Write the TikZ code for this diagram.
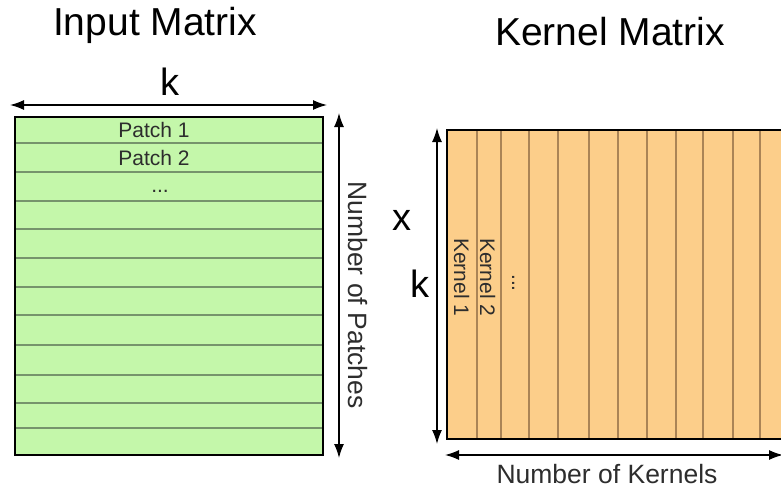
\documentclass[tikz,border=0pt]{standalone}
\usepackage{fontspec}
\setmainfont{Liberation Sans}
\usetikzlibrary{arrows.meta}

\definecolor{patchgreen}{RGB}{196,247,170}
\definecolor{patchline}{RGB}{118,148,108}
\definecolor{kernelorange}{RGB}{252,206,138}
\definecolor{kernelline}{RGB}{170,132,86}
\definecolor{labelgray}{RGB}{45,45,45}

\begin{document}
\begin{tikzpicture}[x=1pt,y=-1pt,
  dimarrow/.style={line width=1.4pt,
    {Latex[length=14pt,width=10pt]}-{Latex[length=14pt,width=10pt]}},
  titletext/.style={font=\fontsize{39}{41}\selectfont, anchor=base, inner sep=0pt},
  bigletter/.style={font=\fontsize{38}{40}\selectfont, anchor=base, inner sep=0pt},
  axislabel/.style={font=\fontsize{26.5}{28}\selectfont, text=labelgray, anchor=base, inner sep=0pt},
  celllabel/.style={font=\fontsize{21}{23}\selectfont, text=labelgray, anchor=base, inner sep=0pt},
  rowline/.style={patchline, line width=1.3pt},
  colline/.style={kernelline, line width=1.3pt},
  frame/.style={line width=1.6pt}
]
\useasboundingbox (0,0) rectangle (781,490);
\clip (0,0) rectangle (781,490);

% ---------- input matrix ----------
\node[titletext] (inTitle) at (155,35) {Input Matrix};

\coordinate (inNW) at (15,117);
\coordinate (inSE) at (323,455);
\fill[patchgreen] (inNW) rectangle (inSE);
\foreach \yy in {143,172,201,229,258,287,315,345,375,403,428}
  \draw[rowline] (15,\yy) -- (323,\yy);
\draw[frame] (inNW) rectangle (inSE);

\node[celllabel] (patchA) at (154,137) {Patch 1};
\node[celllabel] (patchB) at (154,165) {Patch 2};
\node[celllabel] (patchDots) at (160,192) {...};

% width of the input matrix
\coordinate (kwL) at (10,105);
\coordinate (kwR) at (327,105);
\draw[dimarrow] (kwL) -- (kwR);
\node[bigletter] (kTop) at (170,95) {k};

% number of patches
\coordinate (npT) at (339,113);
\coordinate (npB) at (339,458);
\draw[dimarrow] (npT) -- (npB);
\node[axislabel, rotate=-90] (npLabel) at (348,295) {Number of Patches};

% ---------- kernel matrix ----------
\node[titletext] (kerTitle) at (610,45) {Kernel Matrix};

\coordinate (kerNW) at (447,130);
\coordinate (kerSE) at (800,439);
\fill[kernelorange] (kerNW) rectangle (kerSE);
\foreach \xx in {477,501,529,558,589,618,647,676,703,733,760}
  \draw[colline] (\xx,130) -- (\xx,439);
\draw[frame] (800,130) -- (kerNW) -- (447,439) -- (800,439);

\node[celllabel, rotate=-90, anchor=base west] (kerA) at (454,238) {Kernel 1};
\node[celllabel, rotate=-90, anchor=base west] (kerB) at (480,238) {Kernel 2};
\node[celllabel, rotate=-90] (kerDots) at (512,283) {...};

% height of the kernel matrix
\coordinate (khT) at (437,128);
\coordinate (khB) at (437,444);
\draw[dimarrow] (khT) -- (khB);
\node[bigletter] (xSym) at (402,230) {x};
\node[bigletter] (kSide) at (420,297) {k};

% number of kernels
\coordinate (nkL) at (445,455);
\coordinate (nkR) at (783,455);
\draw[dimarrow] (nkL) -- (nkR);
\node[axislabel] (nkLabel) at (607,483) {Number of Kernels};
\end{tikzpicture}
\end{document}
